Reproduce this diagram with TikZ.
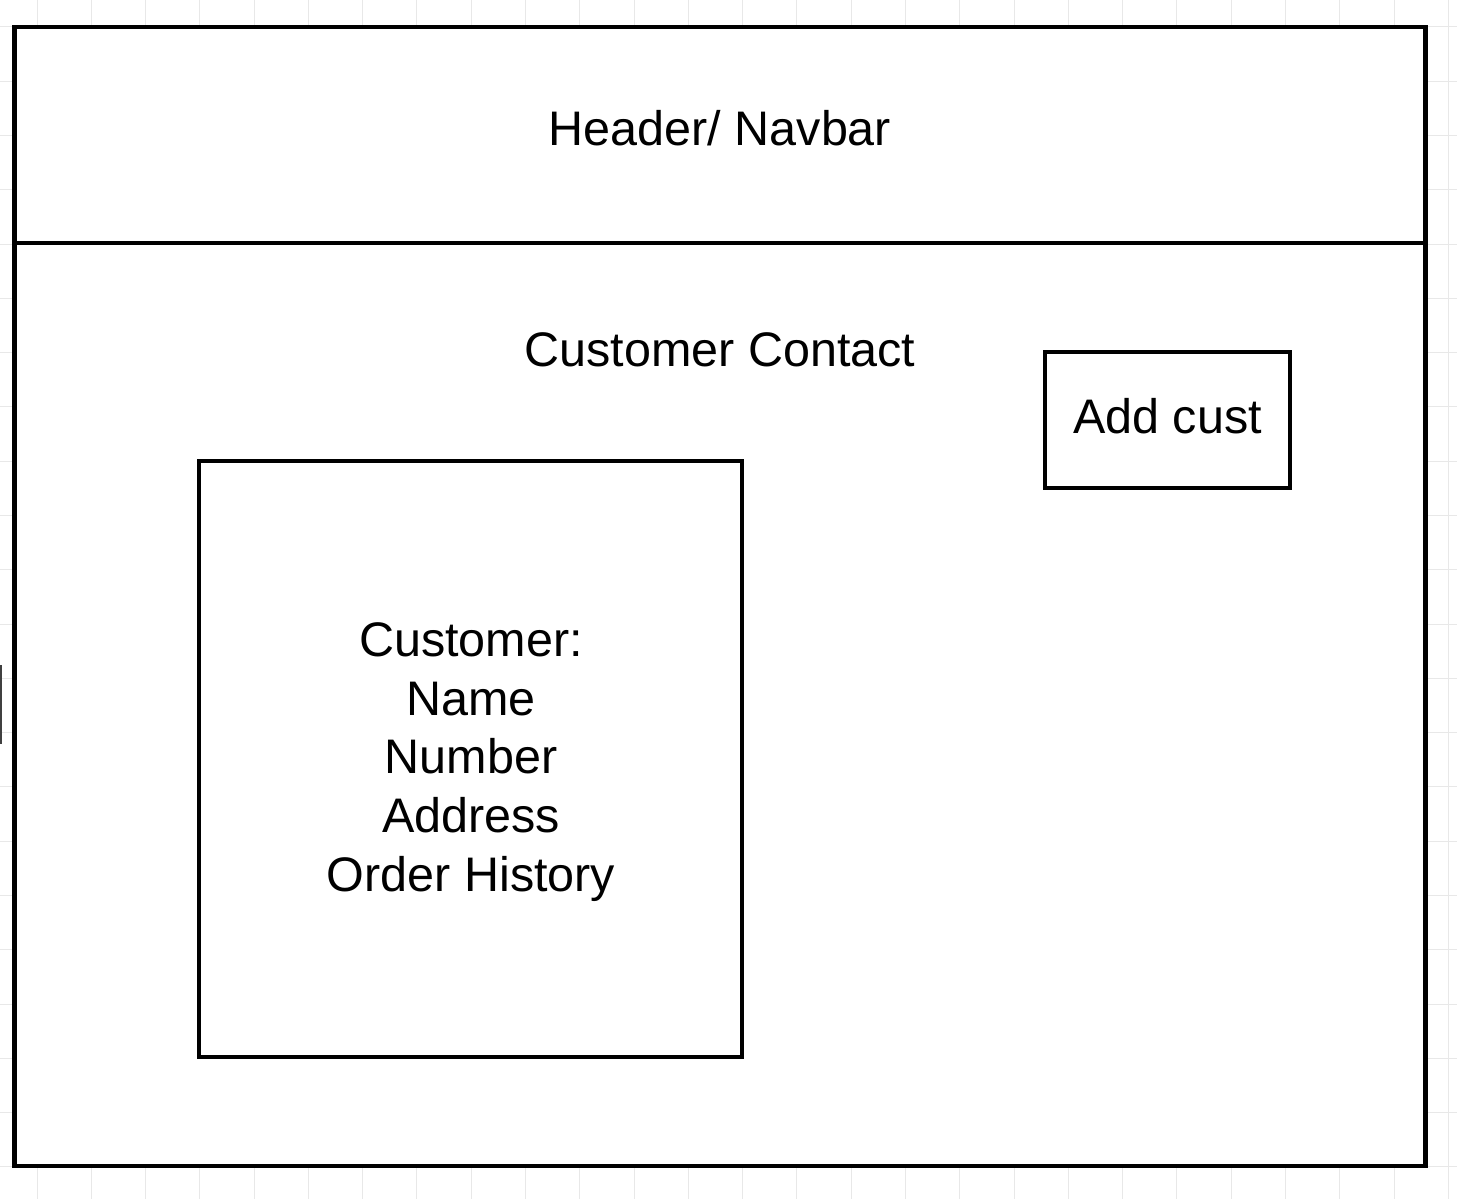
\documentclass[tikz,border=0pt]{standalone}
\usepackage{fontspec}
\setmainfont{Liberation Sans}
\begin{document}
\begin{tikzpicture}[x=1pt,y=-1pt,
  frame/.style={draw=black, line width=4.8pt, fill=white, rectangle, inner sep=0pt, outer sep=0pt},
  label/.style={inner sep=0pt, font=\fontsize{48.5}{58.7}\selectfont, align=center},
  gridline/.style={draw=black!9, line width=1pt}]
\useasboundingbox[fill=white] (0,0) rectangle (1457,1199);
% background grid
\foreach \k in {0,...,26} {\draw[gridline] ({37+54.28*\k},0) -- ({37+54.28*\k},1199);}
\foreach \k in {0,...,21} {\draw[gridline] (0,{27+54.28*\k}) -- (1457,{27+54.28*\k});}
% small cut-off mark at left edge
\coordinate (m1) at (1,665);
\coordinate (m2) at (1,744);
\draw[line width=2pt, draw=black!75] (m1) -- (m2);
% frames
\node[frame, minimum width=1411pt, minimum height=923pt] (body) at (720,704.5) {};
\node[frame, minimum width=1411pt, minimum height=216pt] (header) at (720,135) {};
\node[frame, minimum width=543pt, minimum height=596pt] (cust) at (470.5,759) {};
\node[frame, minimum width=245pt, minimum height=136pt] (add) at (1167.5,420) {};
% texts
\node[label] (htext) at (720,128) {Header/ Navbar};
\node[label] (ctitle) at (720,350) {Customer Contact};
\node[label] (atext) at (1167.5,416) {Add cust};
\node[label] (ctext) at (471,762) {Customer:\\Name\\Number\\Address\\Order History};
\end{tikzpicture}
\end{document}
